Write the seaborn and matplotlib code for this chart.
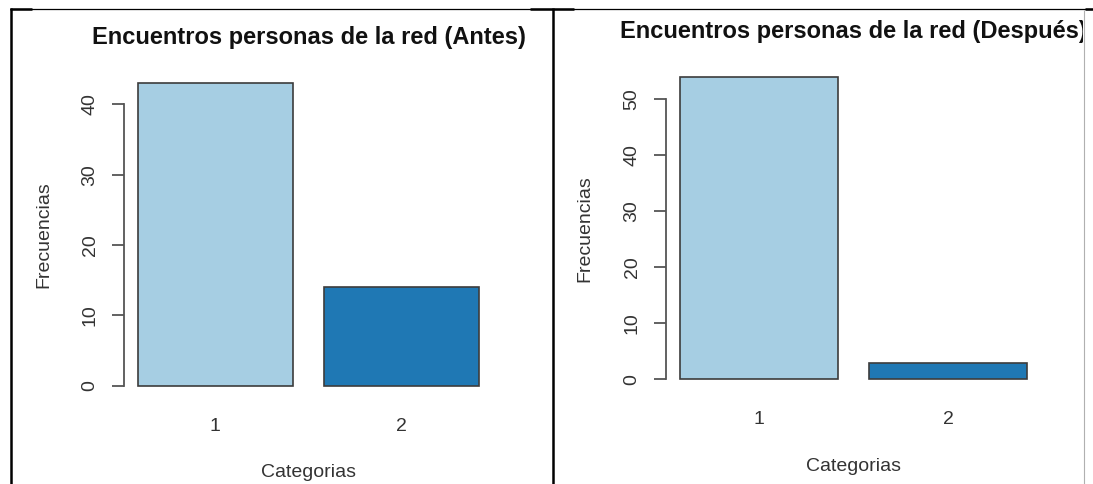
import matplotlib
matplotlib.use("Agg")
import matplotlib.pyplot as plt
import pandas as pd
import seaborn as sns
from matplotlib.lines import Line2D
from matplotlib.transforms import Bbox, TransformedBbox

# data
categorias = ["1", "2"]
frec_antes = [43, 14]
frec_despues = [54, 3]
ticks_antes = [0, 10, 20, 30, 40]
ticks_despues = [0, 10, 20, 30, 40, 50]
titulos = ["Encuentros personas de la red (Antes)", "Encuentros personas de la red (Después)"]

_PALETTE = ["#a6cee3", "#1f78b4"]
_TEXT = "#333333"
_AXIS = "#555555"

W, H = 1093, 484

sns.set_theme(style="white")
plt.rcParams["font.family"] = ["Liberation Sans", "DejaVu Sans"]


def px_axes(fig, left, top, right, bottom):
    """Axes placed by pixel edges (top-left origin)."""
    return fig.add_axes([left / W, 1 - bottom / H, (right - left) / W, (bottom - top) / H])


def r_barplot(ax, values, yticks, title, clip=None):
    df = pd.DataFrame({"categoria": categorias, "frecuencia": values})
    sns.barplot(data=df, x="categoria", y="frecuencia", hue="categoria",
                palette=_PALETTE, saturation=1, legend=False, width=1 / 1.2,
                edgecolor="#3c3c3c", linewidth=1.2, ax=ax)
    ymax = max(values)
    ax.set_xlim(-0.49, 1.49)
    ax.set_ylim(-0.04 * ymax, 1.04 * ymax)
    ax.set_yticks(yticks)
    ax.set_yticklabels([str(t) for t in yticks])
    for side in ["top", "right", "bottom"]:
        ax.spines[side].set_visible(False)
    ax.spines["left"].set_bounds(yticks[0], yticks[-1])
    ax.spines["left"].set_color(_AXIS)
    ax.spines["left"].set_linewidth(1.3)
    ax.tick_params(axis="y", direction="out", length=8.6, width=1.3, color=_AXIS,
                   labelsize=14, labelcolor=_TEXT, pad=9.7, labelrotation=90, left=True)
    for lab in ax.get_yticklabels():
        lab.set_va("center")
    ax.tick_params(axis="x", length=0, labelsize=14, labelcolor=_TEXT, pad=14.2)
    ax.set_xlabel("Categorias", fontsize=14, color=_TEXT, va="center")
    ax.xaxis.set_label_coords(0.5, -0.229)
    ax.set_ylabel("Frecuencias", fontsize=14, color=_TEXT, va="center")
    ax.yaxis.set_label_coords(-0.217, 0.5)
    t = ax.text(0.5, 1.103, title, transform=ax.transAxes, ha="center", va="center",
                fontsize=17, fontweight="bold", color="#111111")
    if clip is not None:
        t.set_clip_box(clip)
        t.set_clip_on(True)
    ax.set_facecolor("white")


fig = plt.figure(figsize=(W / 100, H / 100), dpi=100)
fig.patch.set_facecolor("white")

ax1 = px_axes(fig, 124, 71, 493, 398)
r_barplot(ax1, frec_antes, ticks_antes, titulos[0])

ax2 = px_axes(fig, 666, 65, 1041, 391.5)
clip = TransformedBbox(Bbox([[0, 0], [1083 / W, 1]]), fig.transFigure)
r_barplot(ax2, frec_despues, ticks_despues, titulos[1], clip=clip)


# table frame lines from the surrounding document
def frame_line(xs, ys, lw, color="black"):
    fig.add_artist(Line2D([x / W for x in xs], [1 - y / H for y in ys],
                          transform=fig.transFigure, lw=lw, color=color,
                          solid_capstyle="butt"))


frame_line([10, W], [8.5, 8.5], 0.9)
frame_line([10, 32], [8.5, 8.5], 1.8)
frame_line([530, 574], [8.5, 8.5], 1.8)
frame_line([1085, W], [8.5, 8.5], 1.8)
frame_line([10.5, 10.5], [8, H], 1.8)
frame_line([553, 553], [8, H], 1.8)
frame_line([1084, 1084], [10, H], 0.8, color="#b0b0b0")

fig.savefig("out.png", dpi=100)
